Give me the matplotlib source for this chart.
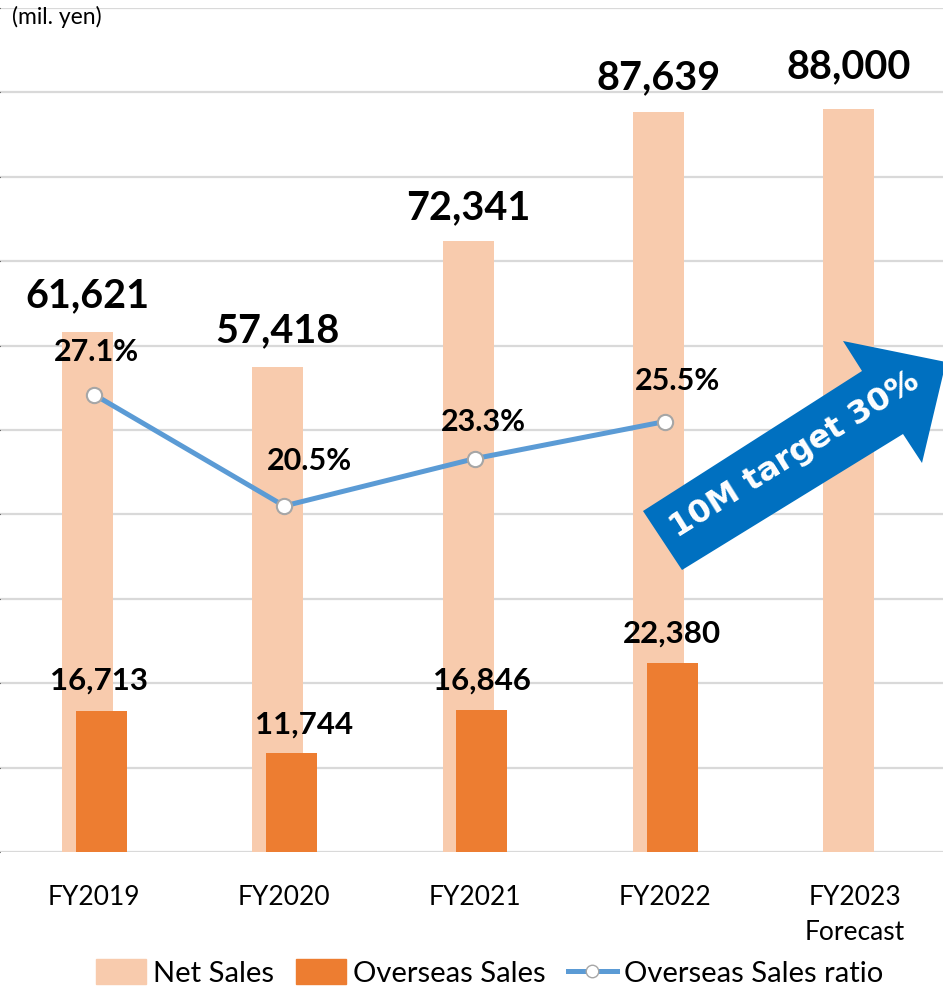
import numpy as np
import matplotlib
matplotlib.use("Agg")
from matplotlib import pyplot as plt
from matplotlib.patches import Patch, Polygon
from matplotlib.lines import Line2D

plt.rcParams['font.family'] = ['Lato', 'DejaVu Sans']

# data
years = ['FY2019', 'FY2020', 'FY2021', 'FY2022', 'FY2023\nForecast']
net_sales = [61621, 57418, 72341, 87639, 88000]
overseas_sales = [16713, 11744, 16846, 22380]
overseas_ratio = [27.1, 20.5, 23.3, 25.5]

# label nudges in pixels (dx, dy above the mark)
net_lbl_off = [(0, 36), (0, 37), (0, 34), (0, 35), (0, 43)]
ovs_lbl_off = [(-2, 30), (12, 28), (0, 29), (0, 30)]
pct_lbl_off = [(2, 43), (25, 45), (9, 37), (13, 41)]

NET_C = '#F8CBAD'
OVS_C = '#ED7D31'
LINE_C = '#5B9BD5'

W, H = 943, 990
fig = plt.figure(figsize=(W / 100, H / 100), dpi=100)
ax = fig.add_axes([0, (H - 852) / H, 1, (852 - 8) / H])

x = np.arange(len(years))
bw = 0.268
ax.bar(x - 0.034, net_sales, width=bw, color=NET_C, zorder=2)
ax.bar(x[:len(overseas_sales)] + 0.039, overseas_sales, width=bw, color=OVS_C, zorder=3)

ax.set_ylim(0, 100000)
ax.set_xlim(-94 / 190.25, -94 / 190.25 + W / 190.25)
ax.set_yticks(np.arange(0, 100001, 10000))
ax.yaxis.grid(True, color='#D9D9D9', lw=1.6, zorder=0)
ax.set_axisbelow(True)
ax.tick_params(axis='y', left=False, labelleft=False)
ax.tick_params(axis='x', bottom=False, pad=20, labelsize=19)
ax.set_xticks(x)
ax.set_xticklabels(years, linespacing=1.5)
for s in ax.spines.values():
    s.set_visible(False)

px = 72 / 100  # pixels -> points
for i, v in enumerate(net_sales):
    dx, dy = net_lbl_off[i]
    ax.annotate(f'{v:,}', (x[i] - 0.034, v), xytext=(dx * px, dy * px),
                textcoords='offset points', ha='center', va='center',
                fontsize=28.5, fontweight='bold', zorder=6)
for i, v in enumerate(overseas_sales):
    dx, dy = ovs_lbl_off[i]
    ax.annotate(f'{v:,}', (x[i] + 0.039, v), xytext=(dx * px, dy * px),
                textcoords='offset points', ha='center', va='center',
                fontsize=22.5, fontweight='bold', zorder=6)

ax2 = ax.twinx()
ax2.set_ylim(0, 50)
ax2.axis('off')
ax2.plot(x[:len(overseas_ratio)], overseas_ratio, color=LINE_C, lw=3.6,
         marker='o', ms=11, mfc='white', mec='#A6A6A6', mew=1.5,
         solid_capstyle='round', zorder=4)
for i, v in enumerate(overseas_ratio):
    dx, dy = pct_lbl_off[i]
    ax2.annotate(f'{v:.1f}%', (x[i], v), xytext=(dx * px, dy * px),
                 textcoords='offset points', ha='center', va='center',
                 fontsize=22, fontweight='bold', zorder=6)

fig.text(12 / W, 1 - 17 / H, '(mil. yen)', fontsize=16.5, va='center', ha='left')

# target arrow (drawn in figure pixels)
arrow_px = [(643, 511), (862, 371), (843, 341), (946, 362),
            (922, 463), (903, 434), (682, 570)]
arrow = Polygon([(a / W, 1 - b / H) for a, b in arrow_px], closed=True,
                transform=fig.transFigure, facecolor='#0070C0', edgecolor='none',
                zorder=5)
fig.patches.append(arrow)
fig.text(795 / W, 1 - 455 / H, '10M target 30%', rotation=32, color='white',
         fontsize=23, fontweight='bold', family='DejaVu Sans',
         ha='center', va='center', rotation_mode='anchor', zorder=6)

handles = [Patch(color=NET_C), Patch(color=OVS_C),
           Line2D([], [], color=LINE_C, lw=3.6, marker='o', ms=9, mfc='white', mec='#A6A6A6')]
fig.legend(handles, ['Net Sales', 'Overseas Sales', 'Overseas Sales ratio'],
           loc='center', bbox_to_anchor=(490 / W, 1 - 973 / H), ncol=3, frameon=False,
           fontsize=21, handlelength=1.7, handleheight=0.9, handletextpad=0.25,
           columnspacing=0.75)

fig.savefig('out.png', dpi=100)
